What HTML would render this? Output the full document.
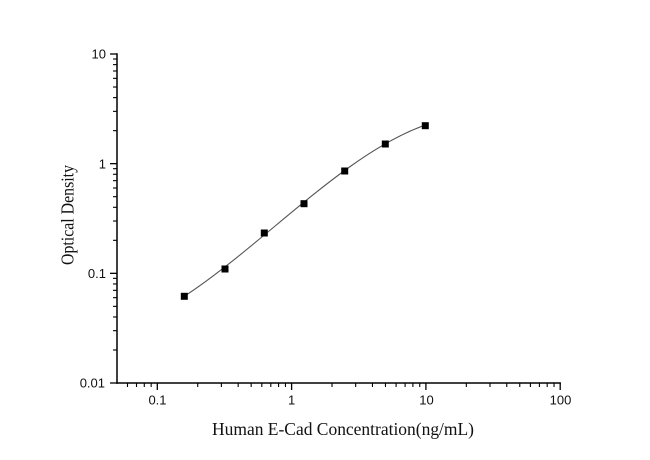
<!DOCTYPE html>
<html>
<head>
<meta charset="utf-8">
<style>
html,body{margin:0;padding:0;background:#fff;}
svg{display:block;}
.tl{font-family:"Liberation Sans",Arial,sans-serif;font-size:13px;fill:#111;}
.tt{font-family:"Liberation Serif","Times New Roman",serif;font-size:17.5px;fill:#111;}
</style>
</head>
<body>
<svg width="650" height="460" viewBox="0 0 650 460" xmlns="http://www.w3.org/2000/svg">
<rect width="650" height="460" fill="#fff"/>
<!-- axes -->
<g stroke="#000" stroke-width="1.5" fill="none">
<line x1="117" y1="53.3" x2="117" y2="383.7"/>
<line x1="116.3" y1="383" x2="560.9" y2="383"/>
</g>
<!-- y major ticks -->
<g stroke="#000" stroke-width="1.3">
<line x1="110" y1="54" x2="117" y2="54"/>
<line x1="110" y1="163.67" x2="117" y2="163.67"/>
<line x1="110" y1="273.33" x2="117" y2="273.33"/>
<line x1="110" y1="383" x2="117" y2="383"/>
</g>
<!-- y minor ticks -->
<g stroke="#000" stroke-width="1.1">
<line x1="113" x2="117" y1="349.99" y2="349.99"/>
<line x1="113" x2="117" y1="330.68" y2="330.68"/>
<line x1="113" x2="117" y1="316.97" y2="316.97"/>
<line x1="113" x2="117" y1="306.35" y2="306.35"/>
<line x1="113" x2="117" y1="297.66" y2="297.66"/>
<line x1="113" x2="117" y1="290.32" y2="290.32"/>
<line x1="113" x2="117" y1="283.96" y2="283.96"/>
<line x1="113" x2="117" y1="278.35" y2="278.35"/>
<line x1="113" x2="117" y1="240.32" y2="240.32"/>
<line x1="113" x2="117" y1="221.01" y2="221.01"/>
<line x1="113" x2="117" y1="207.30" y2="207.30"/>
<line x1="113" x2="117" y1="196.68" y2="196.68"/>
<line x1="113" x2="117" y1="187.99" y2="187.99"/>
<line x1="113" x2="117" y1="180.65" y2="180.65"/>
<line x1="113" x2="117" y1="174.29" y2="174.29"/>
<line x1="113" x2="117" y1="168.68" y2="168.68"/>
<line x1="113" x2="117" y1="130.66" y2="130.66"/>
<line x1="113" x2="117" y1="111.35" y2="111.35"/>
<line x1="113" x2="117" y1="97.64" y2="97.64"/>
<line x1="113" x2="117" y1="87.02" y2="87.02"/>
<line x1="113" x2="117" y1="78.33" y2="78.33"/>
<line x1="113" x2="117" y1="70.99" y2="70.99"/>
<line x1="113" x2="117" y1="64.63" y2="64.63"/>
<line x1="113" x2="117" y1="59.02" y2="59.02"/>
</g>
<!-- x major ticks -->
<g stroke="#000" stroke-width="1.3">
<line x1="157.3" x2="157.3" y1="383" y2="390"/>
<line x1="291.6" x2="291.6" y1="383" y2="390"/>
<line x1="425.9" x2="425.9" y1="383" y2="390"/>
<line x1="560.2" x2="560.2" y1="383" y2="390"/>
</g>
<!-- x minor ticks -->
<g stroke="#000" stroke-width="1.1">
<line y1="383" y2="387" x1="127.5" x2="127.5"/>
<line y1="383" y2="387" x1="136.5" x2="136.5"/>
<line y1="383" y2="387" x1="144.29" x2="144.29"/>
<line y1="383" y2="387" x1="151.15" x2="151.15"/>
<line y1="383" y2="387" x1="197.73" x2="197.73"/>
<line y1="383" y2="387" x1="221.38" x2="221.38"/>
<line y1="383" y2="387" x1="238.16" x2="238.16"/>
<line y1="383" y2="387" x1="251.17" x2="251.17"/>
<line y1="383" y2="387" x1="261.8" x2="261.8"/>
<line y1="383" y2="387" x1="270.8" x2="270.8"/>
<line y1="383" y2="387" x1="278.59" x2="278.59"/>
<line y1="383" y2="387" x1="285.45" x2="285.45"/>
<line y1="383" y2="387" x1="332.03" x2="332.03"/>
<line y1="383" y2="387" x1="355.68" x2="355.68"/>
<line y1="383" y2="387" x1="372.46" x2="372.46"/>
<line y1="383" y2="387" x1="385.47" x2="385.47"/>
<line y1="383" y2="387" x1="396.1" x2="396.1"/>
<line y1="383" y2="387" x1="405.1" x2="405.1"/>
<line y1="383" y2="387" x1="412.89" x2="412.89"/>
<line y1="383" y2="387" x1="419.75" x2="419.75"/>
<line y1="383" y2="387" x1="466.33" x2="466.33"/>
<line y1="383" y2="387" x1="489.98" x2="489.98"/>
<line y1="383" y2="387" x1="506.76" x2="506.76"/>
<line y1="383" y2="387" x1="519.77" x2="519.77"/>
<line y1="383" y2="387" x1="530.4" x2="530.4"/>
<line y1="383" y2="387" x1="539.4" x2="539.4"/>
<line y1="383" y2="387" x1="547.19" x2="547.19"/>
<line y1="383" y2="387" x1="554.05" x2="554.05"/>
</g>
<!-- y tick labels -->
<g class="tl" text-anchor="end">
<text x="106" y="58.7">10</text>
<text x="106" y="168.3">1</text>
<text x="106" y="278">0.1</text>
<text x="105" y="387.7">0.01</text>
</g>
<!-- x tick labels -->
<g class="tl" text-anchor="middle">
<text x="157.5" y="404.3">0.1</text>
<text x="291.6" y="404.3">1</text>
<text x="426.5" y="404.3">10</text>
<text x="560.5" y="404.3">100</text>
</g>
<!-- axis titles -->
<text class="tt" x="343" y="435" text-anchor="middle" textLength="262" lengthAdjust="spacingAndGlyphs">Human E-Cad Concentration(ng/mL)</text>
<text class="tt" transform="translate(73.5,215) rotate(-90)" text-anchor="middle" textLength="100" lengthAdjust="spacingAndGlyphs">Optical Density</text>
<!-- fitted curve -->
<path d="M184,296.58 C264,244.06 344,154.28 424,125.52" fill="none" stroke="#555" stroke-width="1.1"/>
<!-- data points -->
<g fill="#000">
<rect x="180.8" y="292.8" width="7" height="7"/>
<rect x="221.5" y="265.5" width="7" height="7"/>
<rect x="260.8" y="229.5" width="7" height="7"/>
<rect x="300.5" y="200.2" width="7" height="7"/>
<rect x="341.2" y="167.5" width="7" height="7"/>
<rect x="381.8" y="140.5" width="7" height="7"/>
<rect x="421.8" y="122.2" width="7" height="7"/>
</g>
</svg>
</body>
</html>
